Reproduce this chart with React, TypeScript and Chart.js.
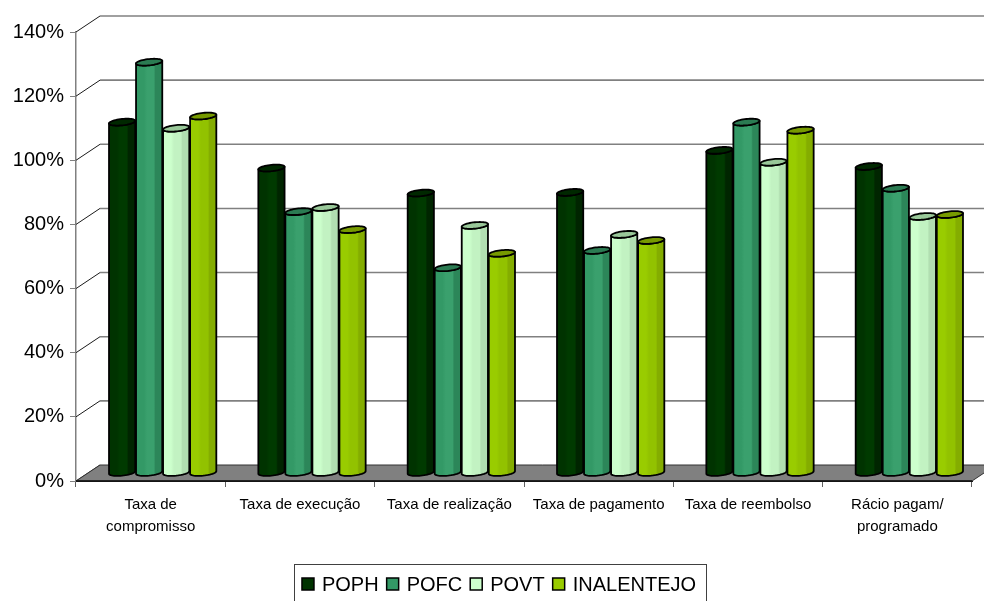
import React, { useEffect, useRef } from 'react';
import { Chart, registerables } from 'chart.js';

Chart.register(...registerables);

// Categories (multi-line labels are arrays)
const categories: (string | string[])[] = [
  ['Taxa de', 'compromisso'],
  'Taxa de execução',
  'Taxa de realização',
  'Taxa de pagamento',
  'Taxa de reembolso',
  ['Rácio pagam/', 'programado'],
];

const seriesNames = ['POPH', 'POFC', 'POVT', 'INALENTEJO'];

// Values in percent
const poph = [109.4, 95.1, 87.3, 87.5, 100.6, 95.6];
const pofc = [128.1, 81.5, 64.0, 69.4, 109.4, 88.8];
const povt = [107.5, 82.8, 77.2, 74.4, 96.9, 80.0];
const inalentejo = [111.3, 75.9, 68.5, 72.5, 106.9, 80.6];

const yTicks = [0, 20, 40, 60, 80, 100, 120, 140];

// Cylinder shading per series: base, light stripe, shadow side, top cap
const palette = [
  { base: '#003300', light: '#003a00', dark: '#002500', cap: '#002800', legend: '#003300' },
  { base: '#339966', light: '#3aa06d', dark: '#2c8659', cap: '#2b7b52', legend: '#339966' },
  { base: '#ccffcc', light: '#c2f2c2', dark: '#b1deb1', cap: '#99c899', legend: '#ccffcc' },
  { base: '#99cc00', light: '#92c200', dark: '#84ad00', cap: '#779a00', legend: '#99cc00' },
];

const FONT = '"Liberation Sans", Arial, Helvetica, sans-serif';

// Depth of the plot box (back wall offset) and of the bar row
const WALL_DX = 24;
const WALL_DY = 16;
const BAR_DX = 12;
const BAR_DY = 8;
// Oblique half-depth of a cylinder's cross-section
const CYL_PX = 5;
const CYL_PY = 3.4;

function drawCylinder(
  ctx: CanvasRenderingContext2D,
  xc: number,
  yTop: number,
  yBot: number,
  width: number,
  c: { base: string; light: string; dark: string; cap: string }
) {
  const hw = width / 2;
  const rx = Math.sqrt(Math.max(hw * hw - CYL_PX * CYL_PX, 1));
  const th = Math.atan2(CYL_PX, rx);
  const pt = (t: number, cy: number): [number, number] => [
    xc + rx * Math.cos(t) + CYL_PX * Math.sin(t),
    cy - CYL_PY * Math.sin(t),
  ];
  const tL = Math.PI + th;
  const tR = 2 * Math.PI + th;
  const N = 24;

  // body
  ctx.beginPath();
  ctx.moveTo(...pt(tL, yTop));
  ctx.lineTo(...pt(tL, yBot));
  for (let k = 0; k <= N; k++) ctx.lineTo(...pt(tL + ((tR - tL) * k) / N, yBot));
  ctx.lineTo(...pt(tR, yTop));
  for (let k = N; k >= 0; k--) ctx.lineTo(...pt(tL + ((tR - tL) * k) / N, yTop));
  ctx.closePath();
  const g = ctx.createLinearGradient(xc - hw, 0, xc + hw, 0);
  g.addColorStop(0, c.base);
  g.addColorStop(0.3, c.base);
  g.addColorStop(0.42, c.light);
  g.addColorStop(0.68, c.light);
  g.addColorStop(0.74, c.dark);
  g.addColorStop(1, c.dark);
  ctx.fillStyle = g;
  ctx.fill();
  ctx.lineWidth = 1.8;
  ctx.strokeStyle = '#000';
  ctx.lineJoin = 'round';
  ctx.stroke();

  // top cap
  ctx.beginPath();
  for (let k = 0; k <= 2 * N; k++) {
    const p = pt((2 * Math.PI * k) / (2 * N), yTop);
    if (k === 0) ctx.moveTo(...p);
    else ctx.lineTo(...p);
  }
  ctx.closePath();
  ctx.fillStyle = c.cap;
  ctx.fill();
  ctx.stroke();
}

const boxPlugin = {
  id: 'box3d',
  beforeDatasetsDraw(chart: any) {
    const { ctx, chartArea: a, scales } = chart;
    const y = scales.y;
    ctx.save();

    // back wall gridlines and left-side depth lines
    for (const v of yTicks) {
      const yf = y.getPixelForValue(v);
      const yb = yf - WALL_DY;
      if (v > 0) {
        ctx.beginPath();
        ctx.strokeStyle = '#808080';
        ctx.lineWidth = 1.6;
        ctx.moveTo(a.left + WALL_DX, yb);
        ctx.lineTo(a.right + WALL_DX, yb);
        ctx.stroke();
      }
      ctx.beginPath();
      ctx.strokeStyle = '#1a1a1a';
      ctx.lineWidth = 1;
      ctx.moveTo(a.left, yf);
      ctx.lineTo(a.left + WALL_DX, yb);
      ctx.stroke();
    }

    // floor
    const y0 = y.getPixelForValue(0);
    ctx.beginPath();
    ctx.moveTo(a.left, y0);
    ctx.lineTo(a.left + WALL_DX, y0 - WALL_DY);
    ctx.lineTo(a.right + WALL_DX, y0 - WALL_DY);
    ctx.lineTo(a.right, y0);
    ctx.closePath();
    ctx.fillStyle = '#808080';
    ctx.fill();
    ctx.strokeStyle = '#333';
    ctx.lineWidth = 1;
    ctx.stroke();
    ctx.beginPath();
    ctx.moveTo(a.left, y0);
    ctx.lineTo(a.right, y0);
    ctx.strokeStyle = '#111';
    ctx.lineWidth = 1.5;
    ctx.stroke();

    // cylinders, category by category
    const n = chart.data.labels.length;
    for (let j = 0; j < n; j++) {
      chart.data.datasets.forEach((_ds: any, i: number) => {
        const el = chart.getDatasetMeta(i).data[j];
        if (!el) return;
        const p = el.getProps(['x', 'y', 'base', 'width'], true);
        drawCylinder(ctx, p.x + BAR_DX, p.y - BAR_DY, p.base - BAR_DY, p.width, palette[i]);
      });
    }
    ctx.restore();
  },
  beforeDatasetDraw() {
    return false;
  },
  afterDraw(chart: any) {
    const { ctx } = chart;
    ctx.save();
    ctx.font = `20px ${FONT}`;
    ctx.textBaseline = 'alphabetic';
    const box = 12;
    const gapText = 8;
    const gapItem = 8;
    const widths = seriesNames.map((s) => ctx.measureText(s).width);
    const total =
      widths.reduce((s, w) => s + w + box + gapText, 0) + gapItem * (seriesNames.length - 1);
    const cx = 499;
    let x = cx - total / 2;
    const boxLeft = x - 8;
    const boxRight = x + total + 10;
    ctx.strokeStyle = '#404040';
    ctx.lineWidth = 1;
    ctx.strokeRect(Math.round(boxLeft) + 0.5, 564.5, Math.round(boxRight - boxLeft), 60);
    seriesNames.forEach((s, i) => {
      ctx.fillStyle = palette[i].legend;
      ctx.fillRect(x, 578, box, box);
      ctx.strokeStyle = '#000';
      ctx.lineWidth = 1.5;
      ctx.strokeRect(x, 578, box, box);
      ctx.fillStyle = '#000';
      ctx.fillText(s, x + box + gapText, 591);
      x += box + gapText + widths[i] + gapItem;
    });
    ctx.restore();
  },
};

export default function App() {
  const ref = useRef<HTMLCanvasElement | null>(null);

  useEffect(() => {
    if (!ref.current) return;
    const chart = new Chart(ref.current, {
      type: 'bar',
      data: {
        labels: categories,
        datasets: [
          { label: seriesNames[0], data: poph, backgroundColor: palette[0].base },
          { label: seriesNames[1], data: pofc, backgroundColor: palette[1].base },
          { label: seriesNames[2], data: povt, backgroundColor: palette[2].base },
          { label: seriesNames[3], data: inalentejo, backgroundColor: palette[3].base },
        ],
      },
      options: {
        responsive: false,
        animation: false,
        devicePixelRatio: 1,
        layout: { padding: { top: 32, right: 12, left: 0, bottom: 0 } },
        datasets: { bar: { categoryPercentage: 0.724, barPercentage: 0.97 } },
        plugins: { legend: { display: false }, tooltip: { enabled: false } },
        scales: {
          x: {
            grid: {
              offset: true,
              drawOnChartArea: false,
              drawTicks: true,
              tickLength: 6,
              color: '#606060',
            },
            border: { display: true, color: '#111', width: 1 },
            ticks: {
              color: '#000',
              padding: 7,
              maxRotation: 0,
              autoSkip: false,
              font: { family: FONT, size: 15, lineHeight: 22 / 15 },
            },
            afterFit: (s: any) => {
              s.height = 120;
            },
          },
          y: {
            min: 0,
            max: 140,
            afterBuildTicks: (s: any) => {
              s.ticks = yTicks.map((v) => ({ value: v }));
            },
            grid: {
              drawOnChartArea: false,
              drawTicks: true,
              tickLength: 6,
              color: '#808080',
            },
            border: { display: true, color: '#808080', width: 1.5 },
            ticks: {
              color: '#000',
              padding: 6,
              font: { family: FONT, size: 20 },
              callback: (v: any) => `${v}%`,
            },
            afterFit: (s: any) => {
              s.width = 76;
            },
          },
        },
      },
      plugins: [boxPlugin],
    });
    return () => chart.destroy();
  }, []);

  return (
    <div
      style={{
        position: 'fixed',
        left: 0,
        top: 0,
        width: 984,
        height: 601,
        background: '#fff',
        overflow: 'hidden',
      }}
    >
      <canvas ref={ref} width={984} height={601} style={{ display: 'block' }} />
    </div>
  );
}
